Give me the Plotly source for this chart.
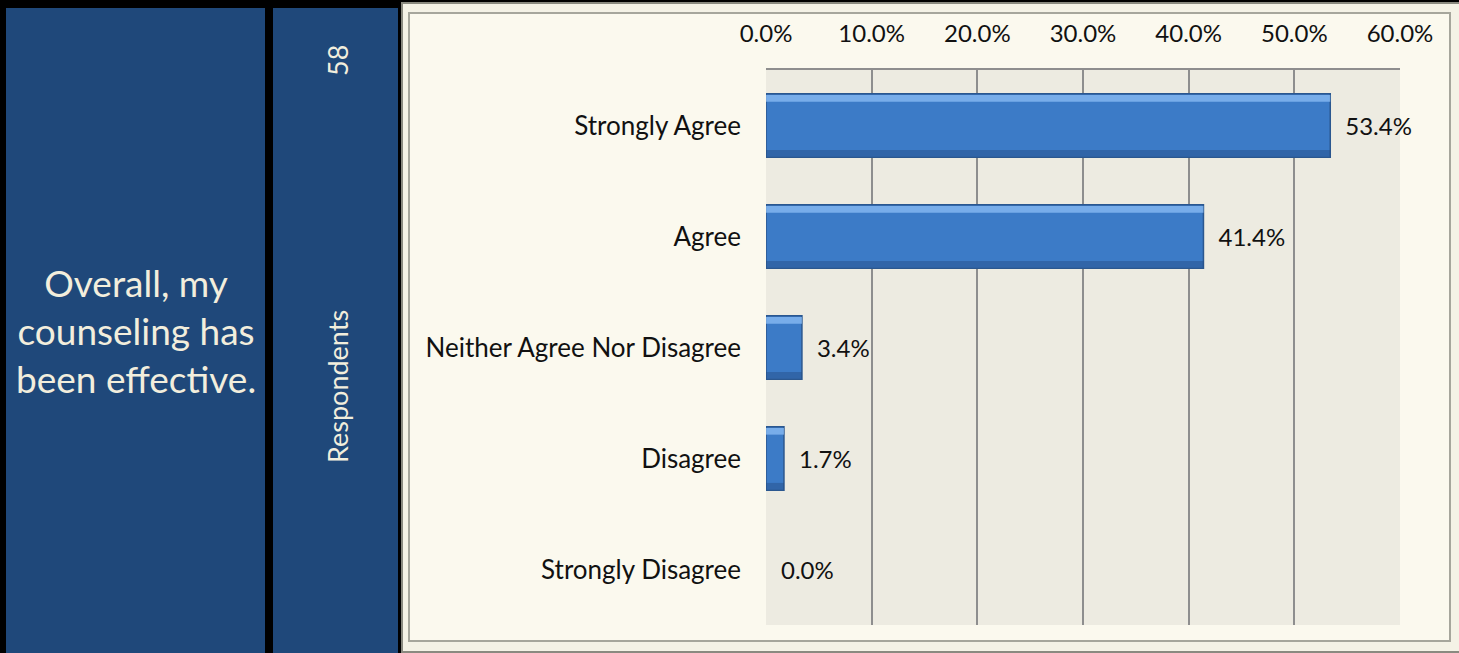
import plotly.graph_objects as go

categories = ["Strongly Agree", "Agree", "Neither Agree Nor Disagree", "Disagree", "Strongly Disagree"]
values = [0.534, 0.414, 0.034, 0.017, 0.0]
title_text = "Overall, my<br>counseling has<br>been effective."
respondents = "58"
resp_label = "Respondents"

W, H = 1459, 653
L, R, T, B = 766, 1400, 70, 625

def px(x):
    return (x - L) / (R - L)

def py(y):
    return (B - y) / (B - T)

lw = [1.5 if v > 0 else 0 for v in values]

fig = go.Figure()
fig.add_trace(go.Bar(
    y=categories, x=values, orientation="h",
    marker=dict(color="#3C7BC7", line=dict(color="#2B578F", width=lw)),
    width=0.57, offset=-0.285,
    text=["\u2002" + f"{v*100:.1f}%" for v in values],
    textposition="outside",
    textfont=dict(family="Lato", size=24, color="#111111"),
    cliponaxis=False, hoverinfo="skip",
))
# bevel highlight (top) and shade (bottom) on the same bars
fig.add_trace(go.Bar(
    y=categories, x=values, orientation="h",
    marker=dict(color="rgba(140,190,245,0.75)", line=dict(width=0)),
    width=0.06, offset=0.215, hoverinfo="skip",
))
fig.add_trace(go.Bar(
    y=categories, x=values, orientation="h",
    marker=dict(color="rgba(35,75,130,0.45)", line=dict(width=0)),
    width=0.06, offset=-0.28, hoverinfo="skip",
))

shapes = [
    dict(type="rect", xref="paper", yref="paper", x0=px(6), x1=px(265), y0=py(8), y1=py(660),
         fillcolor="#1F487A", line=dict(width=0), layer="below"),
    dict(type="rect", xref="paper", yref="paper", x0=px(273), x1=px(398), y0=py(8), y1=py(660),
         fillcolor="#1F487A", line=dict(width=0), layer="below"),
    dict(type="rect", xref="paper", yref="paper", x0=px(402), x1=px(1462), y0=py(3), y1=py(652),
         fillcolor="#F4F2E6", line=dict(color="#8A8A80", width=2), layer="below"),
    dict(type="rect", xref="paper", yref="paper", x0=px(409), x1=px(1450), y0=py(13), y1=py(641),
         fillcolor="#FBF9EE", line=dict(color="#A6A69C", width=2), layer="below"),
    dict(type="rect", xref="paper", yref="paper", x0=px(766), x1=px(1400), y0=py(70), y1=py(625),
         fillcolor="#EDEBE1", line=dict(width=0), layer="below"),
]

annotations = [
    dict(xref="paper", yref="paper", x=px(136), y=py(330), text=title_text, showarrow=False,
         font=dict(family="Lato", size=37, color="#F2EEDD"), align="center",
         xanchor="center", yanchor="middle"),
    dict(xref="paper", yref="paper", x=px(338), y=py(61), text=respondents, showarrow=False,
         font=dict(family="Lato", size=27, color="#F2EEDD"), textangle=-90,
         xanchor="center", yanchor="middle"),
    dict(xref="paper", yref="paper", x=px(338), y=py(387), text=resp_label, showarrow=False,
         font=dict(family="Lato", size=27, color="#F2EEDD"), textangle=-90,
         xanchor="center", yanchor="middle"),
]

fig.update_layout(
    width=W, height=H,
    margin=dict(l=L, r=W - R, t=T, b=H - B, pad=0),
    paper_bgcolor="#000000",
    plot_bgcolor="rgba(0,0,0,0)",
    showlegend=False,
    barmode="overlay",
    shapes=shapes,
    annotations=annotations,
    xaxis=dict(
        side="top", range=[0, 0.6], dtick=0.1, tick0=0, tickformat=".1%",
        showgrid=True, gridcolor="#8E8E8E", gridwidth=2,
        showline=True, linecolor="#8E8E8E", linewidth=2,
        zeroline=False, ticks="", ticklabelstandoff=16,
        tickfont=dict(family="Lato", size=24, color="#111111"),
        fixedrange=True,
    ),
    yaxis=dict(
        categoryorder="array", categoryarray=categories[::-1],
        showgrid=False, showline=False, zeroline=False, ticks="",
        ticklabelstandoff=24,
        tickfont=dict(family="Lato", size=26, color="#111111"),
        fixedrange=True,
    ),
)

fig.write_html("out.html", config={"displayModeBar": False},
               post_script="document.body.style.margin='0';document.body.style.overflow='hidden';")
